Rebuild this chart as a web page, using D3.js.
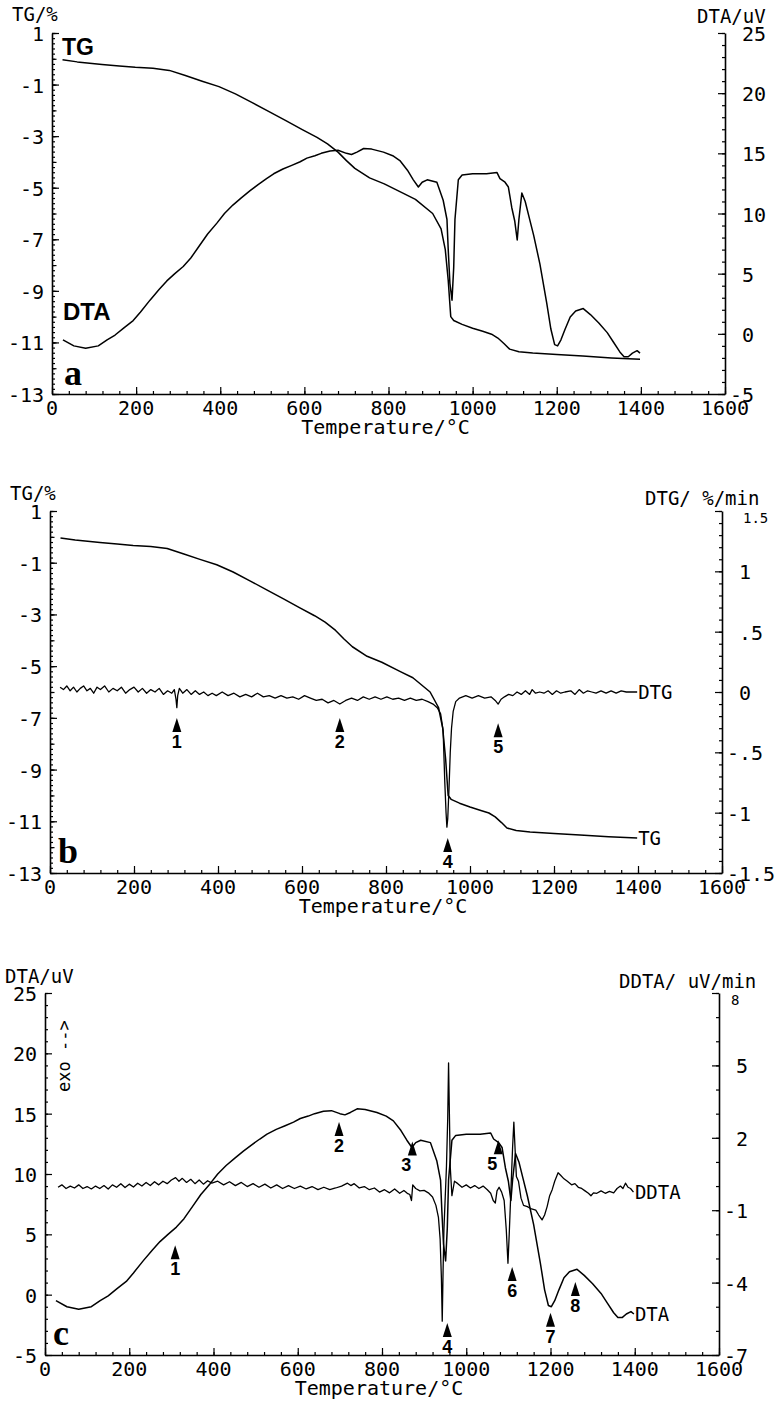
<!DOCTYPE html>
<html><head><meta charset="utf-8">
<script src="https://cdn.jsdelivr.net/npm/d3@7"></script>
<style>
body{margin:0;background:#fff;}
svg{display:block;background:#fff;}
</style></head><body>
<svg id="chart" width="775" height="1402"></svg>
<script>
// ---------------- DATA ----------------
const xTicks = [0,200,400,600,800,1000,1200,1400,1600];

// TG curve (%), shared by panels a and b
const tgTemp = [25,60,119,160,198,240,279,317,357,397,436,476,516,556,595,630,655,680,700,720,755,790,833,864,905,925,935,942,948,955,975,1000,1024,1045,1060,1075,1088,1110,1143,1200,1262,1330,1398];
const tgValues = [-0.04,-0.12,-0.22,-0.28,-0.33,-0.37,-0.45,-0.65,-0.87,-1.08,-1.36,-1.7,-2.05,-2.4,-2.75,-3.05,-3.3,-3.62,-3.95,-4.25,-4.62,-4.85,-5.2,-5.45,-6.0,-6.6,-7.4,-8.6,-10.0,-10.15,-10.3,-10.45,-10.57,-10.68,-10.83,-11.05,-11.26,-11.36,-11.41,-11.47,-11.53,-11.6,-11.65];

// DTA curve (uV), shared by panels a and c
const dtaTemp = [26,52,80,110,131,150,171,193,210,233,255,273,292,312,330,350,370,392,410,430,450,471,490,510,527,549,570,590,606,625,640,661,680,700,712,725,741,760,788,810,827,845,859,871,880,892,915,930,939,942,946,951,955,958,966,975,1000,1033,1058,1065,1077,1085,1093,1100,1106,1110,1117,1125,1135,1145,1160,1176,1186,1195,1202,1210,1220,1232,1245,1263,1280,1300,1320,1335,1350,1360,1370,1380,1391,1398];
const dtaValues = [-0.5,-1.0,-1.2,-1.0,-0.5,-0.1,0.5,1.1,1.8,2.8,3.7,4.4,5.0,5.6,6.3,7.3,8.3,9.2,10.0,10.7,11.3,11.9,12.4,12.9,13.3,13.7,14.0,14.3,14.6,14.8,15.0,15.2,15.25,15.0,14.9,15.1,15.4,15.35,15.1,14.8,14.4,13.6,12.8,12.2,12.6,12.8,12.6,11.1,9.5,7.0,4.2,2.8,5.5,9.5,12.8,13.2,13.3,13.3,13.4,12.9,12.6,12.2,10.5,9.4,7.8,9.5,11.7,11.0,9.6,8.2,5.8,2.6,0.4,-0.9,-1.0,-0.5,0.4,1.4,1.9,2.1,1.6,0.9,0.1,-0.7,-1.5,-1.9,-1.9,-1.6,-1.4,-1.6];

// DTG curve (%/min), panel b
const dtgTemp = [24,32,40,48,56,64,72,80,88,96,104,112,120,130,140,150,160,170,180,190,200,210,220,230,240,250,260,270,280,290,296,300,302,304,308,316,326,336,346,356,366,376,386,396,410,424,438,452,466,480,494,508,522,536,550,564,578,592,606,620,634,648,662,676,690,704,718,732,746,760,774,788,802,816,830,844,858,872,886,900,912,922,930,936,940,943,945,947,950,953,956,960,966,975,990,1005,1020,1035,1050,1060,1067,1074,1082,1092,1102,1112,1122,1132,1142,1148,1156,1166,1176,1186,1196,1206,1216,1226,1240,1250,1260,1270,1280,1290,1300,1312,1324,1336,1348,1360,1372,1384,1398];
const dtgValues = [0.04,0.02,0.05,0.01,0.04,0.0,0.03,0.05,0.01,0.03,-0.01,0.04,0.02,0.05,0.0,0.03,0.01,0.04,-0.01,0.02,0.04,0.0,0.03,-0.01,0.02,0.0,0.03,-0.02,0.01,-0.01,0.02,-0.06,-0.13,-0.03,0.03,-0.01,0.02,-0.02,0.01,-0.02,0.0,-0.03,-0.01,-0.03,0.0,-0.03,-0.01,-0.04,-0.02,-0.04,-0.01,-0.04,-0.03,-0.05,-0.03,-0.05,-0.04,-0.06,-0.03,-0.05,-0.07,-0.06,-0.09,-0.07,-0.1,-0.07,-0.05,-0.07,-0.04,-0.06,-0.04,-0.06,-0.04,-0.06,-0.05,-0.07,-0.05,-0.07,-0.06,-0.08,-0.1,-0.13,-0.18,-0.32,-0.75,-1.0,-1.12,-1.05,-0.8,-0.5,-0.3,-0.16,-0.08,-0.05,-0.03,-0.05,-0.03,-0.05,-0.04,-0.07,-0.1,-0.06,-0.04,-0.02,-0.03,0.0,-0.02,0.01,-0.02,0.02,-0.01,0.0,-0.01,0.01,-0.02,0.01,-0.01,0.0,0.01,-0.02,0.02,-0.01,0.01,0.0,-0.01,0.01,-0.01,0.01,-0.01,0.01,0.0,0.0,0.0];

// DDTA curve (uV/min), panel c
const ddtaTemp = [31,40,50,60,70,80,90,100,110,120,130,140,150,160,170,180,190,200,210,220,230,240,250,260,270,280,290,300,310,318,326,336,346,356,366,376,386,396,410,424,438,452,466,480,494,508,522,536,550,564,578,592,606,620,634,648,662,676,690,704,718,726,734,746,758,770,782,794,806,818,830,842,852,860,866,870,873,880,890,900,910,920,928,934,938,941,943,945,947,950,953,956,958,960,962,966,972,980,990,1000,1010,1020,1030,1040,1050,1058,1064,1069,1073,1078,1084,1090,1095,1099,1102,1106,1110,1113,1116,1119,1124,1130,1136,1145,1155,1165,1172,1180,1186,1192,1198,1204,1210,1218,1224,1232,1240,1250,1258,1266,1274,1282,1290,1296,1302,1310,1320,1330,1340,1350,1358,1366,1372,1378,1384,1390,1397];
const ddtaValues = [-0.05,0.05,-0.1,0.0,-0.08,0.05,-0.1,-0.02,-0.12,0.0,-0.1,0.02,-0.12,0.05,-0.05,0.1,-0.06,0.08,-0.04,0.12,0.0,0.15,0.02,0.18,0.05,0.2,0.1,0.25,0.35,0.2,0.32,0.15,0.28,0.1,0.25,0.08,0.22,0.12,0.2,0.05,0.18,0.02,0.15,-0.02,0.1,-0.05,0.08,-0.08,0.05,-0.1,0.02,-0.1,0.0,-0.12,-0.02,-0.15,-0.05,-0.15,-0.08,0.0,0.12,0.02,0.1,-0.08,-0.02,-0.15,-0.08,-0.25,-0.15,-0.28,-0.12,-0.3,-0.18,-0.3,-0.35,-0.6,0.05,-0.1,-0.2,-0.18,-0.28,-0.45,-0.8,-1.3,-2.2,-3.8,-5.6,-3.5,-1.8,-0.5,0.8,2.8,5.1,3.0,0.8,-0.4,0.2,0.1,-0.05,0.05,-0.08,0.02,-0.1,0.0,-0.15,-0.3,-0.6,-0.7,-0.2,-0.05,-0.25,-0.6,-1.8,-3.2,-2.0,-0.2,1.6,2.65,1.5,0.4,0.2,-0.5,-0.8,-0.85,-0.95,-1.0,-1.2,-1.4,-1.2,-0.85,-0.4,-0.15,0.2,0.55,0.45,0.3,0.2,0.05,0.1,-0.05,-0.1,-0.2,-0.3,-0.4,-0.28,-0.3,-0.2,-0.3,-0.22,-0.28,-0.1,0.0,-0.1,0.12,-0.05,-0.1,-0.25];

// Peak markers (temperature, value on the curve scale used for the tip)
const peaksB = [
  {label:"1", t:302, v:-0.215},
  {label:"2", t:690, v:-0.215},
  {label:"5", t:1067, v:-0.26},
  {label:"4", t:947, v:-1.21}
];
const peaksC = [
  {label:"1", t:309, v:4.1},
  {label:"2", t:698, v:14.3},
  {label:"3", t:872, v:12.7, dx:-6},
  {label:"4", t:955, v:-2.35},
  {label:"5", t:1076, v:12.8, dx:-6},
  {label:"6", t:1109, v:2.3},
  {label:"7", t:1200, v:-1.5},
  {label:"8", t:1259, v:1.05}
];

// Axis tick labels
const tgTicks = [1,-1,-3,-5,-7,-9,-11,-13];
const dtaTicks = [25,20,15,10,5,0,-5];
const dtgTicks = [1.5,1,0.5,0,-0.5,-1,-1.5];
const dtgTickText = ["1.5","1",".5","0","-.5","-1","-1.5"];
const ddtaTicks = [8,5,2,-1,-4,-7];

// ---------------- DRAW ----------------
const svg = d3.select("#chart");
const MONO = "'DejaVu Sans Mono', 'Liberation Mono', monospace";
const SANS = "'Liberation Sans', Arial, sans-serif";
const SERIF = "'Liberation Serif', 'Times New Roman', serif";
const FS = 20;

function zip(ts, vs){ return ts.map((t,i)=>[t, vs[i]]); }

function styleAxis(g){
  g.selectAll("path.domain").attr("stroke","#000").attr("stroke-width",1.6);
  g.selectAll(".tick line").attr("stroke","#000").attr("stroke-width",1.2);
}

function rng(a,b,s){ const out=[]; const n=Math.round((b-a)/s); for(let i=0;i<=n;i++) out.push(+(a+i*s).toFixed(4)); return out; }

function xAxis(g, x, yBot){
  const a1 = g.append("g").attr("transform",`translate(0,${yBot})`)
    .call(d3.axisBottom(x).tickValues(rng(0,1600,40)).tickSize(-3).tickSizeOuter(0).tickFormat(""));
  styleAxis(a1);
  const a2 = g.append("g").attr("transform",`translate(0,${yBot})`)
    .call(d3.axisBottom(x).tickValues(xTicks).tickSize(-7).tickSizeOuter(0).tickFormat(""));
  a2.select(".domain").remove(); styleAxis(a2);
  g.selectAll(null).data(xTicks).enter().append("text")
    .attr("x", d=>x(d)).attr("y", yBot+21)
    .attr("text-anchor","middle").attr("font-family",MONO).attr("font-size",FS)
    .text(d=>String(d));
  g.append("text").attr("x",(x.range()[0]+x.range()[1])/2 - 3).attr("y",yBot+40)
    .attr("text-anchor","middle").attr("font-family",MONO).attr("font-size",FS)
    .text("Temperature/°C");
}

function yAxis(g, y, xPos, side, minorStep, midStep, major, ticks, texts, topSmall){
  const dom = y.domain();
  const lo = Math.min(dom[0],dom[1]), hi = Math.max(dom[0],dom[1]);
  const mk = side==="left" ? d3.axisLeft : d3.axisRight;
  const a1 = g.append("g").attr("transform",`translate(${xPos},0)`)
    .call(mk(y).tickValues(rng(lo,hi,minorStep)).tickSize(-3).tickSizeOuter(0).tickFormat(""));
  styleAxis(a1);
  if (midStep){
    const a3 = g.append("g").attr("transform",`translate(${xPos},0)`)
      .call(mk(y).tickValues(rng(lo,hi,midStep)).tickSize(-4.5).tickSizeOuter(0).tickFormat(""));
    a3.select(".domain").remove(); styleAxis(a3);
  }
  const a2 = g.append("g").attr("transform",`translate(${xPos},0)`)
    .call(mk(y).tickValues(major).tickSize(-7).tickSizeOuter(0).tickFormat(""));
  a2.select(".domain").remove(); styleAxis(a2);
  const charW = FS*0.602;
  g.selectAll(null).data(ticks).enter().append("text")
    .attr("x", (d,i)=>{
      if (side==="left") return xPos-8;
      const s = texts ? texts[i] : String(d);
      if (topSmall && i===0) return xPos+topSmall.dx;
      return xPos+17 - (s[0]==="-" ? charW : 0);
    })
    .attr("y", (d,i)=> (topSmall && i===0) ? y(d)+12 : y(d)+8)
    .attr("text-anchor", side==="left" ? "end" : "start")
    .attr("font-family",MONO).attr("font-size",(d,i)=> (topSmall && i===0) ? 14 : FS)
    .text((d,i)=> texts ? texts[i] : String(d));
}

function curve(g, x, y, data, w){
  g.append("path").datum(data)
    .attr("fill","none").attr("stroke","#000").attr("stroke-width",w||1.5)
    .attr("stroke-linejoin","round")
    .attr("d", d3.line().x(d=>x(d[0])).y(d=>y(d[1])));
}

function title(g, x, y, txt, anchor){
  g.append("text").attr("x",x).attr("y",y).attr("text-anchor",anchor||"start")
    .attr("font-family",MONO).attr("font-size",19).text(txt);
}

function marker(g, x, y, p){
  const cx = x(p.t), ty = y(p.v);
  g.append("path").attr("d",`M${cx},${ty} L${cx-4.5},${ty+14} L${cx+4.5},${ty+14} Z`).attr("fill","#000");
  g.append("text").attr("x",cx+(p.dx||0)).attr("y",ty+30).attr("text-anchor","middle")
    .attr("font-family",SANS).attr("font-weight","bold").attr("font-size",18).text(p.label);
}

function seriesLabel(g, x, y, t, v, txt){
  g.append("text").attr("x",x(t)+1).attr("y",y(v)+7)
    .attr("font-family",MONO).attr("font-size",19).text(txt);
}

// ----- Panel a -----
{
  const g = svg.append("g");
  const x = d3.scaleLinear().domain([0,1600]).range([52,725]);
  const yL = d3.scaleLinear().domain([-13,1]).range([394,33]);
  const yR = d3.scaleLinear().domain([-5,25]).range([394,33]);
  xAxis(g, x, 394);
  yAxis(g, yL, 52, "left", 0.2, 1, tgTicks, tgTicks);
  yAxis(g, yR, 725, "right", 1, null, dtaTicks, dtaTicks);
  title(g, 12, 21, "TG/%");
  title(g, 697, 23, "DTA/uV");
  curve(g, x, yL, zip(tgTemp, tgValues));
  curve(g, x, yR, zip(dtaTemp, dtaValues));
  g.append("text").attr("x",62).attr("y",55).attr("font-family",SANS).attr("font-weight","bold").attr("font-size",23).text("TG");
  g.append("text").attr("x",63).attr("y",320).attr("font-family",SANS).attr("font-weight","bold").attr("font-size",24).text("DTA");
  g.append("text").attr("x",64).attr("y",385).attr("font-family",SERIF).attr("font-weight","bold").attr("font-size",36).text("a");
}

// ----- Panel b -----
{
  const g = svg.append("g");
  const x = d3.scaleLinear().domain([0,1600]).range([50,722]);
  const yL = d3.scaleLinear().domain([-13,1]).range([873,511]);
  const yR = d3.scaleLinear().domain([-1.5,1.5]).range([873,511]);
  xAxis(g, x, 873);
  yAxis(g, yL, 50, "left", 0.2, 1, tgTicks, tgTicks);
  yAxis(g, yR, 722, "right", 0.1, null, dtgTicks, dtgTicks, dtgTickText, {dx:21});
  title(g, 10, 500, "TG/%");
  title(g, 645, 505, "DTG/ %/min");
  curve(g, x, yL, zip(tgTemp, tgValues));
  curve(g, x, yR, zip(dtgTemp, dtgValues), 1.3);
  seriesLabel(g, x, yR, 1398, dtgValues[dtgValues.length-1], "DTG");
  seriesLabel(g, x, yL, 1398, tgValues[tgValues.length-1], "TG");
  peaksB.forEach(p=>marker(g, x, yR, p));
  g.append("text").attr("x",58).attr("y",863).attr("font-family",SERIF).attr("font-weight","bold").attr("font-size",36).text("b");
}

// ----- Panel c -----
{
  const g = svg.append("g");
  const x = d3.scaleLinear().domain([0,1600]).range([45,719]);
  const yL = d3.scaleLinear().domain([-5,25]).range([1355,993]);
  const yR = d3.scaleLinear().domain([-7,8]).range([1355,993]);
  xAxis(g, x, 1355);
  yAxis(g, yL, 45, "left", 1, null, dtaTicks, dtaTicks);
  yAxis(g, yR, 719, "right", 1, null, ddtaTicks, ddtaTicks, null, {dx:12});
  title(g, 5, 983, "DTA/uV");
  title(g, 619, 988, "DDTA/ uV/min");
  curve(g, x, yL, zip(dtaTemp, dtaValues));
  curve(g, x, yR, zip(ddtaTemp, ddtaValues), 1.3);
  seriesLabel(g, x, yR, 1398, ddtaValues[ddtaValues.length-1], "DDTA");
  seriesLabel(g, x, yL, 1398, dtaValues[dtaValues.length-1], "DTA");
  peaksC.forEach(p=>marker(g, x, yL, p));
  g.append("text").attr("transform","translate(70,1092) rotate(-90)")
    .attr("font-family",MONO).attr("font-size",17).text("exo -->");
  g.append("text").attr("x",53).attr("y",1345).attr("font-family",SERIF).attr("font-weight","bold").attr("font-size",36).text("c");
}
</script></body></html>
